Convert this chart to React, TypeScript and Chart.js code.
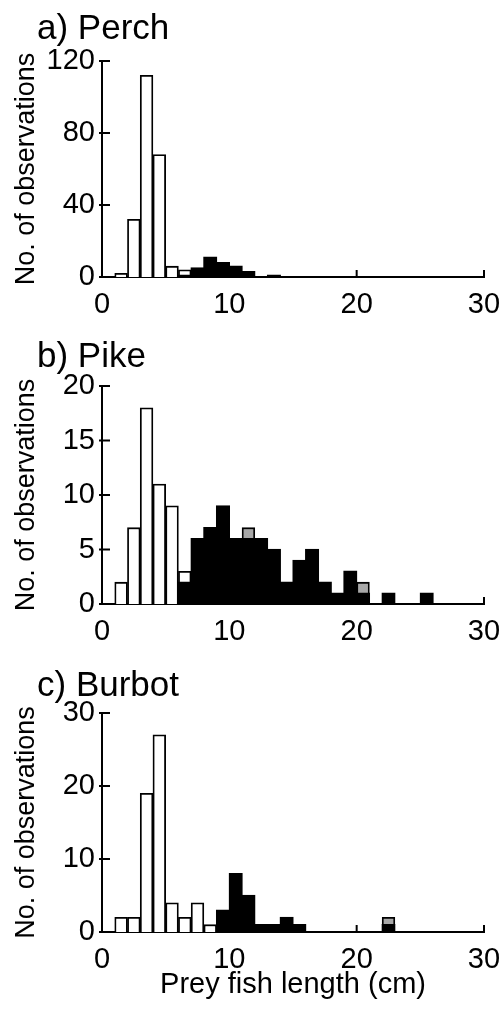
import React, { useEffect, useRef } from "react";
import { Chart, registerables } from "chart.js";

Chart.register(...registerables);
Chart.defaults.font.family = "'Liberation Sans', Arial, sans-serif";
Chart.defaults.color = "#000";

// 1-cm length bins (bin centres, cm)
const binCenters = [
  0.5, 1.5, 2.5, 3.5, 4.5, 5.5, 6.5, 7.5, 8.5, 9.5,
  10.5, 11.5, 12.5, 13.5, 14.5, 15.5, 16.5, 17.5, 18.5, 19.5,
  20.5, 21.5, 22.5, 23.5, 24.5, 25.5, 26.5, 27.5, 28.5, 29.5,
];

// a) Perch
const perchOpen = [0, 2, 32, 112, 68, 6, 3, 0, 0, 0, 0, 0, 0, 0, 0, 0, 0, 0, 0, 0, 0, 0, 0, 0, 0, 0, 0, 0, 0, 0];
const perchBlack = [0, 0, 0, 0, 0, 0, 1, 5, 11, 8, 6, 3, 0, 1, 0, 0, 0, 0, 0, 0, 0, 0, 0, 0, 0, 0, 0, 0, 0, 0];
const perchGrey = [0, 0, 0, 0, 0, 0, 0, 0, 0, 0, 0, 0, 0, 0, 0, 0, 0, 0, 0, 0, 0, 0, 0, 0, 0, 0, 0, 0, 0, 0];

// b) Pike
const pikeOpen = [0, 2, 7, 18, 11, 9, 1, 0, 0, 0, 0, 0, 0, 0, 0, 0, 0, 0, 0, 0, 0, 0, 0, 0, 0, 0, 0, 0, 0, 0];
const pikeBlack = [0, 0, 0, 0, 0, 0, 2, 6, 7, 9, 6, 6, 6, 5, 2, 4, 5, 2, 1, 3, 1, 0, 1, 0, 0, 1, 0, 0, 0, 0];
const pikeGrey = [0, 0, 0, 0, 0, 0, 0, 0, 0, 0, 0, 1, 0, 0, 0, 0, 0, 0, 0, 0, 1, 0, 0, 0, 0, 0, 0, 0, 0, 0];

// c) Burbot
const burbotOpen = [0, 2, 2, 19, 27, 4, 2, 4, 1, 0, 0, 0, 0, 0, 0, 0, 0, 0, 0, 0, 0, 0, 0, 0, 0, 0, 0, 0, 0, 0];
const burbotBlack = [0, 0, 0, 0, 0, 0, 0, 0, 0, 3, 8, 5, 1, 1, 2, 1, 0, 0, 0, 0, 0, 0, 1, 0, 0, 0, 0, 0, 0, 0];
const burbotGrey = [0, 0, 0, 0, 0, 0, 0, 0, 0, 0, 0, 0, 0, 0, 0, 0, 0, 0, 0, 0, 0, 0, 1, 0, 0, 0, 0, 0, 0, 0];

// tick labels
const xTicks = [0, 10, 20, 30];
const perchYTicks = [0, 40, 80, 120];
const pikeYTicks = [0, 5, 10, 15, 20];
const burbotYTicks = [0, 10, 20, 30];

const yAxisTitle = "No. of observations";
const xAxisTitle = "Prey fish length (cm)";

const TITLE_SIZE = 35;
const TICK_SIZE = 29;

const tickPlugin = {
  id: "inwardTicks",
  afterDraw(chart: any) {
    const { ctx, chartArea, scales } = chart;
    ctx.save();
    ctx.strokeStyle = "#000";
    ctx.lineWidth = 2;
    scales.y.ticks.forEach((t: any) => {
      const p = scales.y.getPixelForValue(t.value);
      ctx.beginPath();
      ctx.moveTo(chartArea.left - 3, p);
      ctx.lineTo(chartArea.left + 8, p);
      ctx.stroke();
    });
    scales.x.ticks.forEach((t: any) => {
      const p = scales.x.getPixelForValue(t.value);
      ctx.beginPath();
      ctx.moveTo(p, chartArea.bottom);
      ctx.lineTo(p, chartArea.bottom - 7);
      ctx.stroke();
    });
    ctx.restore();
  },
};

type PanelProps = {
  title: string;
  open: number[];
  black: number[];
  grey: number[];
  yTicks: number[];
  top: number;
  height: number;
  plotTop: number;
  plotBottom: number;
  titlePadTop: number;
  showXTitle: boolean;
};

function Panel(p: PanelProps) {
  const ref = useRef<HTMLCanvasElement>(null);
  useEffect(() => {
    const toPts = (arr: number[]) => binCenters.map((x, i) => ({ x, y: arr[i] }));
    const common = { borderColor: "#000", borderWidth: 1.8, barPercentage: 1, categoryPercentage: 1 };
    const chart = new Chart(ref.current as HTMLCanvasElement, {
      type: "bar",
      data: {
        datasets: [
          { label: "black", data: toPts(p.black), backgroundColor: "#000", inflateAmount: 0.7, ...common },
          { label: "grey", data: toPts(p.grey), backgroundColor: "#a8a8a8", ...common },
          { label: "open", data: toPts(p.open), backgroundColor: "#fff", ...common },
        ],
      } as any,
      options: {
        animation: false,
        responsive: false,
        maintainAspectRatio: false,
        layout: { padding: { left: 37, right: 20, top: 0, bottom: 0 } },
        plugins: {
          legend: { display: false },
          tooltip: { enabled: false },
          title: {
            display: true,
            text: p.title,
            align: "start",
            color: "#000",
            font: { size: TITLE_SIZE, weight: "normal", lineHeight: 1 },
            padding: { top: p.titlePadTop, bottom: p.plotTop - p.titlePadTop - TITLE_SIZE },
          },
        },
        scales: {
          x: {
            type: "linear",
            min: 0,
            max: 30,
            offset: false,
            stacked: true,
            z: 1,
            grid: { display: false, drawTicks: false },
            border: { display: true, color: "#000", width: 2 },
            afterBuildTicks: (s: any) => {
              s.ticks = xTicks.map((v) => ({ value: v }));
            },
            afterFit: (s: any) => {
              s.height = p.height - p.plotBottom;
              s.paddingLeft = 0;
              s.paddingRight = 0;
            },
            ticks: { font: { size: TICK_SIZE }, padding: 11, maxRotation: 0, autoSkip: false, color: "#000" },
            title: {
              display: p.showXTitle,
              text: xAxisTitle,
              color: "#000",
              font: { size: 29 },
              padding: { top: 0, bottom: 12 },
            },
          },
          y: {
            type: "linear",
            min: 0,
            max: p.yTicks[p.yTicks.length - 1],
            stacked: true,
            z: 1,
            grid: { display: false, drawTicks: false },
            border: { display: true, color: "#000", width: 2 },
            afterBuildTicks: (s: any) => {
              s.ticks = p.yTicks.map((v) => ({ value: v }));
            },
            afterFit: (s: any) => {
              s.width = 65;
              s.paddingTop = 0;
              s.paddingBottom = 0;
            },
            ticks: { font: { size: TICK_SIZE }, padding: 7, color: "#000" },
            title: {
              display: true,
              text: yAxisTitle,
              color: "#000",
              font: { size: 27 },
              padding: { top: -27, bottom: 0 },
            },
          },
        },
      } as any,
      plugins: [tickPlugin],
    });
    return () => chart.destroy();
  }, []);
  return (
    <canvas
      ref={ref}
      width={504}
      height={p.height}
      style={{ position: "absolute", left: 0, top: p.top, width: 504, height: p.height, display: "block" }}
    />
  );
}

export default function App() {
  return (
    <div style={{ position: "absolute", left: 0, top: 0, width: 504, height: 1014, overflow: "hidden", background: "#fff" }}>
      <Panel title="a) Perch" open={perchOpen} black={perchBlack} grey={perchGrey} yTicks={perchYTicks}
        top={0} height={326} plotTop={61} plotBottom={277} titlePadTop={12} showXTitle={false} />
      <Panel title="b) Pike" open={pikeOpen} black={pikeBlack} grey={pikeGrey} yTicks={pikeYTicks}
        top={326} height={326} plotTop={60} plotBottom={278} titlePadTop={13.5} showXTitle={false} />
      <Panel title="c) Burbot" open={burbotOpen} black={burbotBlack} grey={burbotGrey} yTicks={burbotYTicks}
        top={652} height={362} plotTop={61} plotBottom={280} titlePadTop={16.5} showXTitle={true} />
    </div>
  );
}
